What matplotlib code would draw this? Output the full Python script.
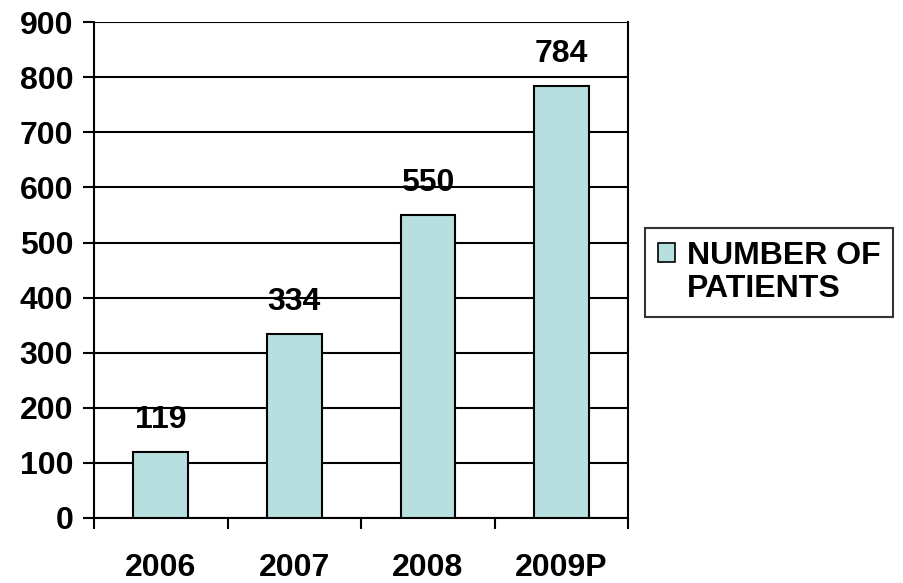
import matplotlib
matplotlib.use('Agg')
import numpy as np
import matplotlib.pyplot as plt
from matplotlib.ticker import FixedLocator

plt.rcParams['font.family'] = ['Liberation Sans', 'DejaVu Sans']
plt.rcParams['font.weight'] = 'bold'

years = ['2006', '2007', '2008', '2009P']
patients = [119, 334, 550, 784]
yticks = [0, 100, 200, 300, 400, 500, 600, 700, 800, 900]
FS = 23

fig = plt.figure(figsize=(9.04, 5.83), dpi=100)
ax = fig.add_axes([0.104, 0.1115, 0.591, 0.8505])

x = np.arange(len(years))
bars = ax.bar(x, patients, width=0.41, color='#B7DFE0', edgecolor='black',
              linewidth=1.5, zorder=3)

for xi, v in zip(x, patients):
    ax.text(xi, v + 58, str(v), ha='center', va='center', fontsize=FS,
            fontweight='bold')

ax.set_xlim(-0.5, len(years) - 0.5)
ax.set_ylim(0, 900)
ax.set_yticks(yticks)
ax.yaxis.grid(True, color='black', linewidth=1.5, zorder=0)
ax.set_axisbelow(True)

ax.set_xticks(x)
ax.set_xticklabels(years, fontsize=FS, fontweight='bold')
ax.xaxis.set_minor_locator(FixedLocator(np.arange(-0.5, len(years), 1.0)))
ax.tick_params(axis='x', which='major', length=0, pad=25)
ax.tick_params(axis='x', which='minor', length=8, width=1.5, direction='out')
ax.tick_params(axis='y', length=8, width=1.5, direction='out', labelsize=FS, pad=7)
for lab in ax.get_yticklabels():
    lab.set_fontweight('bold')

ax.spines['top'].set_visible(False)
for s in ['left', 'right', 'bottom']:
    ax.spines[s].set_linewidth(1.5)

# legend: patch beside first line, second line aligned with text
h1 = plt.Rectangle((0, 0), 1, 1, facecolor='#B7DFE0', edgecolor='black', linewidth=1.2)
h2 = plt.Rectangle((0, 0), 1, 1, fill=False, edgecolor='none')
leg = fig.legend([h1, h2], ['NUMBER OF', 'PATIENTS'], loc='center left',
                 bbox_to_anchor=(0.7135, 0.533),
                 fontsize=FS, frameon=True, fancybox=False,
                 handlelength=0.55, handleheight=0.55, handletextpad=0.35,
                 labelspacing=0.1, borderpad=0.4, borderaxespad=0,
                 edgecolor='black')
leg.get_frame().set_linewidth(1.5)
for t in leg.get_texts():
    t.set_fontweight('bold')

fig.savefig('out.png', dpi=100)
